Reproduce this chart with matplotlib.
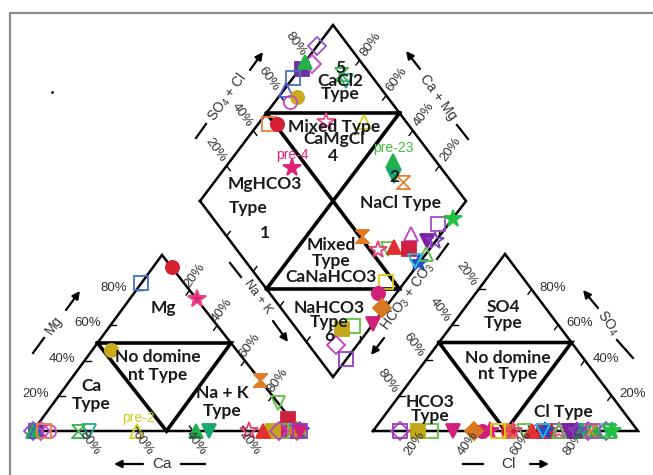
import numpy as np
import matplotlib.pyplot as plt
from matplotlib.path import Path

plt.rcParams['mathtext.default'] = 'regular'

# sample styling (one entry per sample)
marker = ['s', 'D', 'D', '^', 's', '^', 'o', 'o', 's', 'o',
          '*', '*', '^', 'v', 'hg', '^', 'v', 'hg', 'hg', '^',
          's', '*', 'v', '*', 's', '*', '^', 'v', 'v', '*',
          's', 'o', 'D', 'v', 's', 's', 'D', 's', '^']
color = ['#7030a0', '#9b50c8', '#cc44cc', '#22b14c', '#4472c4', '#4a5ad0', '#c8ac1c', '#cc44bb', '#e88040', '#d42030',
         '#e0207a', '#e84a8a', '#d8d020', '#20b090', '#3cb44b', '#22b14c', '#16a870', '#e07b24', '#e08030', '#c040c0',
         '#a050c8', '#22c040', '#8020a0', '#8040c0', '#d02040', '#2050c0', '#5cc040', '#30b8e0', '#60c040', '#e0407a',
         '#e0c820', '#d0207a', '#d87820', '#d0207a', '#60c040', '#c0a818', '#c040c0', '#9040c0', '#e03030']
filled = [1, 0, 0, 1, 0, 0, 1, 0, 0, 1,
          1, 0, 0, 0, 0, 1, 1, 1, 0, 0,
          0, 1, 1, 0, 1, 1, 0, 0, 0, 0,
          0, 1, 1, 1, 0, 1, 0, 0, 1]

# cations, meq %
ca = [99, 100, 97, 100, 16, 99, 47, 94, 96, 0,
      0, 0, 61, 79, 83, 39, 34, 0, 0, 11,
      4, 0, 3, 0, 1, 0, 0, 2, 0, 19,
      7, 7, 1, 0, 7, 10, 8, 0, 14]
mg = [0, 0, 0, 0, 84, 0, 46, 0, 0, 93,
      75, 75, 0, 0, 0, 0, 0, 29, 29, 0,
      0, 0, 0, 0, 7, 0, 0, 0, 16, 0,
      0, 0, 0, 0, 0, 0, 0, 0, 0]
nak = [1, 0, 3, 0, 0, 1, 7, 6, 4, 7,
       25, 25, 39, 21, 17, 61, 66, 71, 71, 89,
       96, 100, 97, 100, 92, 100, 100, 98, 84, 81,
       93, 93, 99, 100, 93, 90, 92, 100, 86]

# anions, meq %
cl = [76, 88, 81, 79, 70, 64, 66, 62, 48, 51,
      44, 70, 84, 89, 89, 84, 80, 51, 82, 70,
      83, 90, 74, 77, 65, 65, 70, 64, 57, 53,
      47, 41, 38, 30, 22, 17, 10, 10, 60]
so4 = [0] * len(cl)
hco3 = [100 - a - b for a, b in zip(cl, so4)]

# point tags: (sample index, plot, text, colour)
tags = [(12, 'cat', 'pre-2', '#c8d020'),
        (10, 'dia', 'pre-4', '#e0207a'),
        (15, 'dia', 'pre-23', '#40c040')]

# page layout in pixels
CAT = [(33, 431), (300, 431), (162, 255)]   # Ca, Na+K, Mg
AN = [(373, 431), (638, 431), (505, 254)]   # HCO3, Cl, SO4
D_L, D_B, D_T = np.array([200, 201]), np.array([333, 377]), np.array([333, 25])
D_R = D_B + D_T - D_L

hourglass = Path([(-1, 1), (1, 1), (-1, -1), (1, -1), (-1, 1)])


def tern(a, b, c, tri):
    a, b, c = np.asarray(a) / 100, np.asarray(b) / 100, np.asarray(c) / 100
    pts = np.array(tri, dtype=float)
    return a * pts[0, 0] + b * pts[1, 0] + c * pts[2, 0], a * pts[0, 1] + b * pts[1, 1] + c * pts[2, 1]


def diamond(n, s):
    n, s = np.asarray(n) / 100, np.asarray(s) / 100
    p = D_L[:, None] + np.outer(D_B - D_L, n) + np.outer(D_T - D_L, s)
    return p[0], p[1]


fig = plt.figure(figsize=(6.53, 4.75), dpi=100)
ax = fig.add_axes([0, 0, 1, 1])
ax.set_xlim(0, 653)
ax.set_ylim(475, 0)
ax.axis('off')

# frame
ax.plot([10, 10, 653], [475, 13, 13], color='#8a8a8a', lw=1.6)
ax.plot(52, 92, marker='.', ms=2, color='k')


def line(pts, lw):
    pts = np.array(pts, dtype=float)
    ax.plot(pts[:, 0], pts[:, 1], color='k', lw=lw, solid_joinstyle='miter', zorder=2)


def mid(p, q):
    return (np.asarray(p, float) + np.asarray(q, float)) / 2


def ticks(p0, p1, direction, length=6):
    p0, p1 = np.asarray(p0, float), np.asarray(p1, float)
    d = np.asarray(direction, float)
    d = d / np.hypot(*d) * length
    for f in [0.2, 0.4, 0.6, 0.8]:
        p = p0 + (p1 - p0) * f
        ax.plot([p[0], p[0] + d[0]], [p[1], p[1] + d[1]], color='k', lw=1.0, zorder=2)


def triangle(tri):
    l, r, t = [np.asarray(p, float) for p in tri]
    line([l, r, t, l], 1.8)
    line([mid(l, t), mid(r, t), mid(l, r), mid(l, t)], 2.6)
    ticks(l, t, r - l)
    ticks(l, r, t - r)
    ticks(r, t, l - t)


triangle(CAT)
triangle(AN)

# diamond
line([D_L, D_T, D_R, D_B, D_L], 1.8)
m_lt, m_tr, m_rb, m_bl = mid(D_L, D_T), mid(D_T, D_R), mid(D_R, D_B), mid(D_B, D_L)
line([m_lt, m_rb], 2.6)
line([m_tr, m_bl], 2.6)
line([m_lt, m_tr], 2.6)
line([m_bl, m_rb], 2.6)
ticks(D_L, D_T, D_B - D_L)
ticks(D_T, D_R, D_L - D_T)
ticks(D_R, D_B, D_T - D_B)
ticks(D_L, D_B, D_T - D_L)

# samples
cx, cy = tern(ca, nak, mg, CAT)
ax_, ay = tern(hco3, cl, so4, AN)
dx, dy = diamond(nak, np.add(cl, so4))
for i in range(len(cl)):
    m = hourglass if marker[i] == 'hg' else marker[i]
    ms = 13 if marker[i] == '*' else 9.5
    face = color[i] if filled[i] else 'none'
    for x, y in [(cx[i], cy[i]), (ax_[i], ay[i]), (dx[i], dy[i])]:
        ax.plot(x, y, marker=m, ms=ms, mfc=face, mec=color[i], mew=1.3, ls='none', zorder=3)

for i, where, txt, c in tags:
    x, y = (cx[i], cy[i]) if where == 'cat' else (dx[i], dy[i])
    ax.text(x + 1, y - 13, txt, color=c, fontsize=10, ha='center', va='center',
            family=['Liberation Sans'], zorder=5)

# region names
bold = dict(fontsize=12.5, fontweight='bold', ha='center', va='center', color='#1a1a1a',
            family=['Lato', 'DejaVu Sans'], zorder=5)
for x, y, s, ls in [(340, 81, '5\nCaCl2\nType', 0.74),
                    (334, 133, 'Mixed Type\nCaMgCl', 0.72), (333, 156, '4', 1),
                    (265, 184, 'MgHCO3', 1), (248, 208, 'Type', 1), (265, 233, '1', 1),
                    (394, 177, '2', 1), (401, 203, 'NaCl Type', 1),
                    (331, 261, 'Mixed\nType\nCaNaHCO3', 0.98),
                    (329, 322, 'NaHCO3\nType\n6', 0.86),
                    (163, 308, 'Mg', 1), (158, 366, 'No domine\nnt Type', 1.1),
                    (91, 395, 'Ca\nType', 1.1), (222, 402, 'Na + K\nType', 1.1),
                    (503, 315, 'SO4\nType', 1.0), (508, 366, 'No domine\nnt Type', 1.06),
                    (430, 409, 'HCO3\nType', 0.78), (563, 412, 'Cl Type', 1)]:
    ax.text(x, y, s, linespacing=ls, **bold)

# percentage labels
pct = dict(fontsize=9.5, ha='center', va='center', color='#333333',
           family=['Liberation Sans'], zorder=5)
labels = ['20%', '40%', '60%', '80%']
for k, f in enumerate([0.2, 0.4, 0.6, 0.8]):
    # cation triangle
    p = tern(100 * (1 - f), 0, 100 * f, CAT)
    ax.text(p[0] - 23, p[1] - 2, labels[k], **pct)
    p = tern(0, 100 * f, 100 * (1 - f), CAT)
    ax.text(p[0] + 5, p[1] - 15, labels[k], rotation=54, **pct)
    p = tern(100 * f, 100 * (1 - f), 0, CAT)
    ax.text(p[0] + 3, p[1] + 12, labels[k], rotation=-54, **pct)
    # anion triangle
    p = tern(100 * f, 0, 100 * (1 - f), AN)
    ax.text(p[0] - 12, p[1] - 15, labels[k], rotation=-54, **pct)
    p = tern(0, 100 * (1 - f), 100 * f, AN)
    ax.text(p[0] + 21, p[1] - 1.5, labels[k], **pct)
    p = tern(100 * (1 - f), 100 * f, 0, AN)
    ax.text(p[0] - 11, p[1] + 12, labels[k], rotation=54, **pct)
    # diamond upper edges
    p = D_L + (D_T - D_L) * f
    ax.text(p[0] - 11, p[1] - 16, labels[k], rotation=-54, **pct)
    p = D_T + (D_R - D_T) * (1 - f)
    ax.text(p[0] + 11, p[1] - 16, labels[k], rotation=54, **pct)

# axis names with arrows
name = dict(fontsize=10, ha='center', va='center', color='#333333',
            family=['Liberation Sans'], zorder=5)
arrow = dict(arrowstyle='-|>', color='k', lw=1.6, mutation_scale=11, shrinkA=0, shrinkB=0)


def axis_name(text, pos, rot, tail, head, dash, size=10):
    ax.text(pos[0], pos[1], text, rotation=rot, **{**name, 'fontsize': size})
    ax.annotate('', xy=head, xytext=tail, arrowprops=arrow, zorder=5)
    ax.plot([dash[0][0], dash[1][0]], [dash[0][1], dash[1][1]], color='k', lw=1.6)


axis_name('Mg', (54, 325), 54, (66, 310), (80, 291), [(33, 353), (44, 338)])
axis_name('Ca', (162, 464), 0, (143, 464), (114, 464), [(181, 464), (205, 464)], 11)
axis_name('Na + K', (258, 297), -54, (273, 321), (288, 342), [(230, 263), (241, 277)], 9)
axis_name('SO$_4$', (608, 323), -54, (598, 308), (583, 290), [(617, 340), (633, 358)])
axis_name('Cl', (508, 464), 0, (530, 464), (549, 464), [(463, 464), (483, 464)], 11)
axis_name('SO$_4$ + Cl', (227, 97), 54, (250, 70), (263, 52), [(196, 138), (206, 124)])
axis_name('Ca + Mg', (438, 97), -54, (420, 69), (406, 51), [(457, 125), (468, 139)])
axis_name('HCO$_3$ + CO$_3$', (408, 297), 54, (384, 338), (371, 355), [(437, 259), (448, 244)])

fig.savefig('out.png', dpi=100)
